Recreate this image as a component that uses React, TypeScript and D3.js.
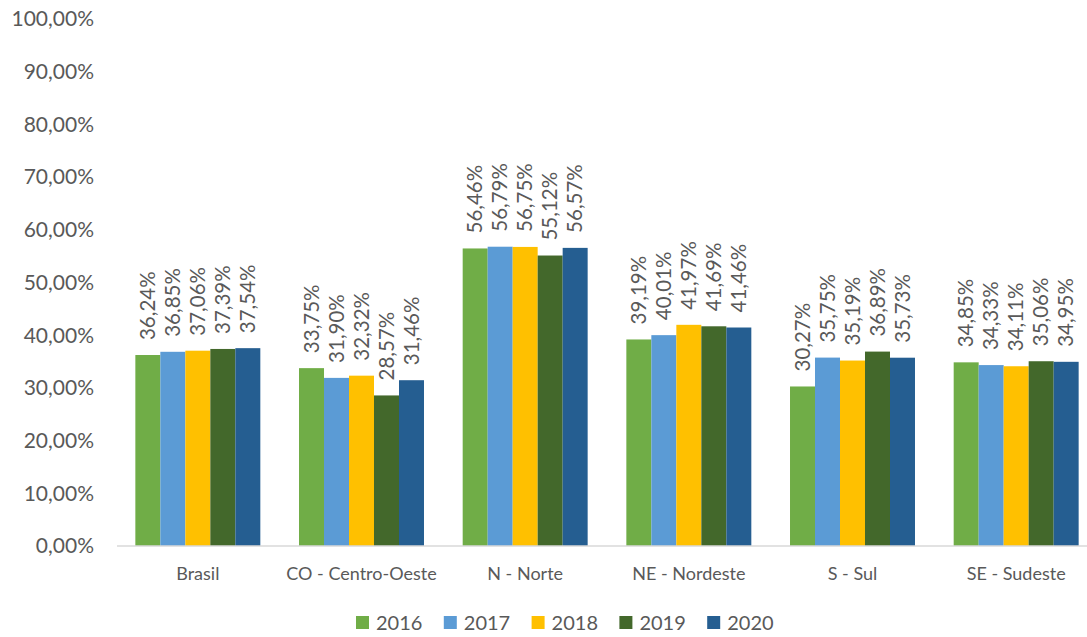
import React from "react";
import * as d3 from "d3";

const categories = ["Brasil", "CO - Centro-Oeste", "N - Norte", "NE - Nordeste", "S - Sul", "SE - Sudeste"];
const years = ["2016", "2017", "2018", "2019", "2020"];
const values2016 = [36.24, 33.75, 56.46, 39.19, 30.27, 34.85];
const values2017 = [36.85, 31.9, 56.79, 40.01, 35.75, 34.33];
const values2018 = [37.06, 32.32, 56.75, 41.97, 35.19, 34.11];
const values2019 = [37.39, 28.57, 55.12, 41.69, 36.89, 35.06];
const values2020 = [37.54, 31.46, 56.57, 41.46, 35.73, 34.95];
const yTicks = [0, 10, 20, 30, 40, 50, 60, 70, 80, 90, 100];

const seriesValues = [values2016, values2017, values2018, values2019, values2020];
const colors = ["#70AD47", "#5B9BD5", "#FFC000", "#43682B", "#255E91"];

const W = 1087;
const H = 637;
const FONT = "Lato, 'Open Sans', sans-serif";
const TEXT = "#595959";

const fmt = (v: number) => v.toFixed(2).replace(".", ",") + "%";

export default function App() {
  const x0 = d3.scaleBand<string>().domain(categories).range([116, 1098]).padding(0);
  const x1 = d3
    .scaleBand<string>()
    .domain(years)
    .range([0, x0.bandwidth()])
    .paddingInner(0)
    .paddingOuter(0.774);
  const y = d3.scaleLinear().domain([0, 100]).range([546, 19]);

  return (
    <svg
      width={W}
      height={H}
      style={{ position: "absolute", left: 0, top: 0, background: "#fff" }}
      fontFamily={FONT}
    >
      <rect width={W} height={H} fill="#fff" />
      {/* value axis labels */}
      {yTicks.map((t) => (
        <text
          key={t}
          x={94}
          y={y(t)}
          dy="0.35em"
          textAnchor="end"
          fontSize={21}
          fill={TEXT}
        >
          {t.toFixed(2).replace(".", ",") + "%"}
        </text>
      ))}
      {/* bars and value labels */}
      {categories.map((c, ci) => (
        <g key={c} transform={`translate(${x0(c)},0)`}>
          {years.map((yr, si) => {
            const v = seriesValues[si][ci];
            const bx = x1(yr)!;
            const bw = x1.bandwidth();
            const cx = bx + bw / 2;
            const top = y(v);
            return (
              <g key={yr}>
                <rect x={bx} y={top} width={bw} height={y(0) - top} fill={colors[si]} />
                <text
                  transform={`translate(${cx},${top - 15}) rotate(-90)`}
                  dy="0.35em"
                  textAnchor="start"
                  fontSize={20.5}
                  fill={TEXT}
                >
                  {fmt(v)}
                </text>
              </g>
            );
          })}
          <text
            x={x0.bandwidth() / 2}
            y={574}
            dy="0.35em"
            textAnchor="middle"
            fontSize={18}
            fill={TEXT}
          >
            {c}
          </text>
        </g>
      ))}
      {/* category axis line */}
      <line x1={117} x2={W} y1={546} y2={546} stroke="#D9D9D9" strokeWidth={1.5} />
      {/* legend */}
      {years.map((yr, i) => {
        const lx = 356 + i * 87.8;
        return (
          <g key={yr} transform={`translate(${lx},623)`}>
            <rect x={0} y={-7} width={13} height={13} fill={colors[i]} />
            <text x={20} y={0} dy="0.35em" fontSize={20} fill={TEXT}>
              {yr}
            </text>
          </g>
        );
      })}
    </svg>
  );
}
